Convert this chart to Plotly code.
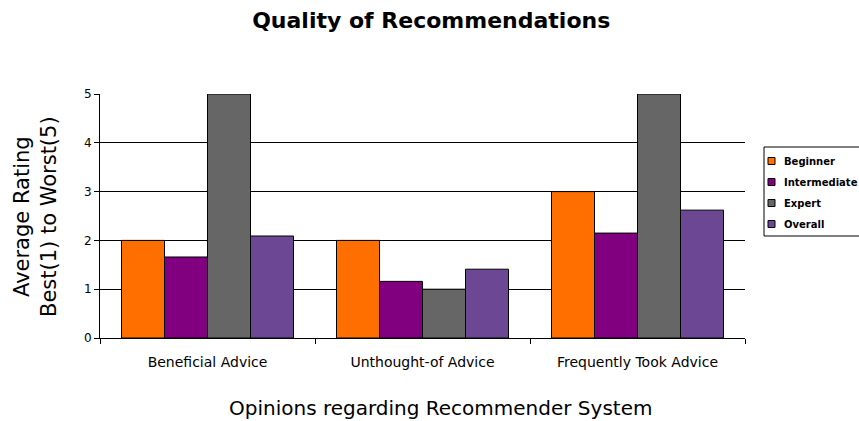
import plotly.graph_objects as go

categories = ["Beneficial Advice", "Unthought-of Advice", "Frequently Took Advice"]
series_names = ["Beginner", "Intermediate", "Expert", "Overall"]
beginner = [2.0, 2.0, 3.0]
intermediate = [1.66, 1.16, 2.15]
expert = [5.0, 1.0, 5.0]
overall = [2.09, 1.41, 2.62]
colors = ["#FF6F00", "#800080", "#666666", "#6C4794"]

FONT = "DejaVu Sans"

# plot area size in px (used to place the legend / titles in paper units)
PW, PH = 645.0, 244.0


def px_x(p):
    return p / PW


def px_y(p):
    return p / PH


fig = go.Figure()
for name, vals, col in zip(series_names, [beginner, intermediate, expert, overall], colors):
    fig.add_trace(go.Bar(x=categories, y=vals, name=name, showlegend=False,
                         marker=dict(color=col, line=dict(color="black", width=1))))

# hand-drawn legend (clipped by the right edge like the original)
shapes = [dict(type="rect", xref="paper", yref="paper",
               x0=px_x(664), x1=px_x(790), y0=px_y(102), y1=px_y(191),
               line=dict(color="black", width=1), fillcolor="white", layer="above")]
annotations = []
for i, (name, col) in enumerate(zip(series_names, colors)):
    cy = 177 - 21 * i
    shapes.append(dict(type="rect", xref="paper", yref="paper",
                       x0=px_x(668), x1=px_x(675), y0=px_y(cy - 3.5), y1=px_y(cy + 3.5),
                       line=dict(color="black", width=1), fillcolor=col, layer="above"))
    annotations.append(dict(xref="paper", yref="paper", x=px_x(682), y=px_y(cy),
                            xanchor="left", yanchor="middle", showarrow=False,
                            text="<b>" + name + "</b>",
                            font=dict(family=FONT, size=10, color="black")))

# axis titles
annotations.append(dict(xref="paper", yref="paper", x=px_x(340), y=px_y(-70),
                        xanchor="center", yanchor="middle", showarrow=False,
                        text="Opinions regarding Recommender System",
                        font=dict(family=FONT, size=20, color="black")))
annotations.append(dict(xref="paper", yref="paper", x=px_x(-65), y=px_y(121),
                        xanchor="center", yanchor="middle", showarrow=False,
                        textangle=-90,
                        text="Average Rating<br>Best(1) to Worst(5)",
                        font=dict(family=FONT, size=21, color="black")))

fig.update_layout(
    width=859, height=421,
    margin=dict(l=100, r=114, t=94, b=83, autoexpand=False),
    paper_bgcolor="white", plot_bgcolor="white",
    barmode="group", bargap=0.2, bargroupgap=0,
    title=dict(text="<b>Quality of Recommendations</b>", x=0.502, xanchor="center",
               y=0.952, yanchor="middle",
               font=dict(family=FONT, size=22, color="black")),
    font=dict(family=FONT, color="black"),
    showlegend=False,
    shapes=shapes,
    annotations=annotations,
)
fig.update_xaxes(
    showline=True, linecolor="black", linewidth=1,
    ticks="outside", tickson="boundaries", ticklen=5, tickcolor="black",
    ticklabelstandoff=11,
    tickfont=dict(family=FONT, size=14, color="black"),
)
fig.update_yaxes(
    range=[0, 5], dtick=1, showgrid=True, gridcolor="black", gridwidth=1,
    showline=True, linecolor="black", linewidth=1,
    ticks="outside", ticklen=5, tickcolor="black",
    tickfont=dict(family=FONT, size=12, color="black"),
    zeroline=False,
)

fig.write_html("out.html", config={"displayModeBar": False},
               post_script="document.body.style.margin='0';")
